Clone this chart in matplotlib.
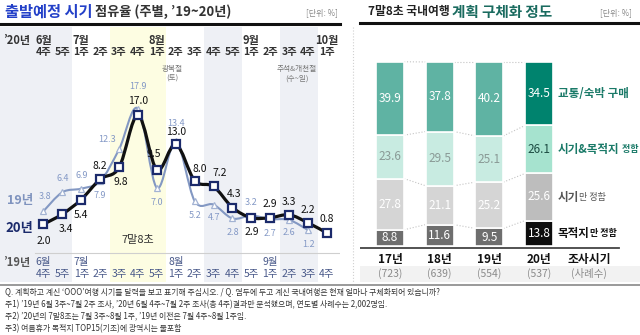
import matplotlib
matplotlib.use("Agg")
import matplotlib.pyplot as plt
from matplotlib.path import Path
from matplotlib.patches import PathPatch
from matplotlib.lines import Line2D
import numpy as np

plt.rcParams['font.family'] = ['Noto Sans CJK KR', 'DejaVu Sans']

#-----DATA-----#
weeks_20 = ['4주', '5주', '1주', '2주', '3주', '4주', '1주', '2주', '3주', '4주', '5주', '1주', '2주', '3주', '4주', '1주']
months_20 = {0: '6월', 2: '7월', 6: '8월', 11: '9월', 15: '10월'}
weeks_19 = ['4주', '5주', '1주', '2주', '3주', '4주', '5주', '1주', '2주', '3주', '4주', '5주', '1주', '2주', '3주', '4주']
months_19 = {0: '6월', 2: '7월', 7: '8월', 12: '9월'}
share_20 = [2.0, 3.4, 5.4, 8.2, 9.8, 17.0, 9.5, 13.0, 8.0, 7.2, 4.3, 2.9, 2.9, 3.3, 2.2, 0.8]
share_19 = [3.8, 6.4, 6.9, 7.9, 12.3, 17.9, 7.0, 13.4, 5.2, 4.7, 2.8, 3.2, 2.7, 2.6, 1.2]

years = ['17년', '18년', '19년', '20년']
cases = ['(723)', '(639)', '(554)', '(537)']
only_dest = [8.8, 11.6, 9.5, 13.8]
only_time = [27.8, 21.1, 25.2, 25.6]
time_dest = [23.6, 29.5, 25.1, 26.1]
booked = [39.9, 37.8, 40.2, 34.5]

notes = ["Q. 계획하고 계신 ‘OOO’여행 시기를 달력을 보고 표기해 주십시오. / Q. 염두에 두고 계신 국내여행은 현재 얼마나 구체화되어 있습니까?",
         "주1) ’19년 6월 3주~7월 2주 조사, ’20년 6월 4주~7월 2주 조사(총 4주)결과만 분석했으며, 연도별 사례수는 2,002명임.",
         "주2) ’20년의 7말8초는 7월 3주~8월 1주, ’19년 이전은 7월 4주~8월 1주임.",
         "주3) 여름휴가 목적지 TOP15(기초)에 광역시는 불포함"]

# label offsets in pixels (layout only)
off_20 = [(0, -17), (4, -15), (0, -15), (0, 13), (2, -15), (0, 14), (-3, 16), (0, 12),
          (5, 12), (6, 13), (2, 14), (0, -14), (0, 14), (0, 13), (0, 13), (0, 14)]
off_19 = [(2, 15), (0, 14), (0, 13), (0, -14), (-12, 10), (0, 22), (0, -15), (0, 18),
          (0, -15), (1, -13), (0, -14), (0, 13), (0, -14), (0, -13), (0, -14)]

W, H = 640, 335


def box(x0, y0, x1, y1):
    return [x0 / W, 1 - y1 / H, (x1 - x0) / W, (y1 - y0) / H]


def smooth_path(xs, ys):
    pts = np.column_stack([xs, ys]).astype(float)
    n = len(pts)
    verts = [pts[0]]
    codes = [Path.MOVETO]
    for i in range(n - 1):
        p0 = pts[i - 1] if i > 0 else pts[i]
        p1 = pts[i]
        p2 = pts[i + 1]
        p3 = pts[i + 2] if i + 2 < n else pts[i + 1]
        verts += [p1 + (p2 - p0) / 6, p2 - (p3 - p1) / 6, p2]
        codes += [Path.CURVE4] * 3
    return Path(verts, codes)


fig = plt.figure(figsize=(6.4, 3.35), dpi=100)
fig.patch.set_facecolor('white')

#-----LEFT PANEL-----#
axL = fig.add_axes(box(0, 27, 340, 282))
axL.set_xlim(-2.30, 15.69)
axL.set_ylim(-5.93, 29.1)
axL.axis('off')


def yl(p):  # pixel row -> left data y
    return (238.8 - p) / 7.28


grey_band = '#eef0f5'
axL.axvspan(-2.3, 1.5, color=grey_band, lw=0, zorder=0)
axL.axvspan(3.5, 6.5, color='#fdfde2', lw=0, zorder=0)
axL.axvspan(8.5, 10.5, color=grey_band, lw=0, zorder=0)
axL.axvspan(12.5, 14.5, color=grey_band, lw=0, zorder=0)

txt = '#333333'
axL.text(-1.4, yl(40), '’20년', ha='center', va='center', fontsize=8, weight='bold', color=txt)
axL.text(-1.4, yl(262), '’19년', ha='center', va='center', fontsize=8, weight='bold', color='#555555')
for i, w in enumerate(weeks_20):
    axL.text(i, yl(52), w, ha='center', va='center', fontsize=7.5, weight='bold', color=txt)
for i, m in months_20.items():
    axL.text(i, yl(40), m, ha='center', va='center', fontsize=8, weight='bold', color=txt)
for i, w in enumerate(weeks_19):
    axL.text(i, yl(274), w, ha='center', va='center', fontsize=7.5, color='#4a5a8a')
for i, m in months_19.items():
    axL.text(i, yl(262), m, ha='center', va='center', fontsize=7.5, color='#4a5a8a')

axL.plot([-0.45, 15.69], [yl(253), yl(253)], color='#cfcfcf', lw=0.8, zorder=1)

axL.text(6.8, yl(74), '광복절\n(토)', ha='center', va='center', fontsize=5.5, color='#777777', linespacing=1.3)
axL.text(13.4, yl(74), '추석&개천절\n(수~일)', ha='center', va='center', fontsize=5.5, color='#777777', linespacing=1.3)
axL.text(5.0, yl(240), '7말8초', ha='center', va='center', fontsize=8, color=txt)
axL.text(-1.25, yl(200), '19년', ha='center', va='center', fontsize=9, weight='bold', color='#7f93be')
axL.text(-1.25, yl(228), '20년', ha='center', va='center', fontsize=9.5, weight='bold', color='#1b2a6b')

x19 = np.arange(len(share_19))
x20 = np.arange(len(share_20))
axL.add_patch(PathPatch(smooth_path(x19, share_19), fc='none', ec='#8398c3', lw=1.5, zorder=3))
axL.plot(x19, share_19, ls='none', marker='^', ms=4, mfc='white', mec='#a3b3d3', mew=0.9, zorder=4)
axL.add_patch(PathPatch(smooth_path(x20, share_20), fc='none', ec='#111111', lw=2.3, zorder=5))
axL.plot(x20, share_20, ls='none', marker='s', ms=6, mfc='white', mec='#1b2a6b', mew=1.6, zorder=6)

for i, v in enumerate(share_19):
    axL.annotate(f'{v:.1f}', (i, v), xytext=off_19[i], textcoords='offset pixels',
                 ha='center', va='center', fontsize=6.5, color='#8499c6', zorder=7)
for i, v in enumerate(share_20):
    axL.annotate(f'{v:.1f}', (i, v), xytext=off_20[i], textcoords='offset pixels',
                 ha='center', va='center', fontsize=7.5, color='#111111', zorder=7)

#-----RIGHT PANEL-----#
axR = fig.add_axes(box(360, 27, 640, 282))
axR.set_xlim(-0.604, 5.03)
axR.set_ylim(-19.6, 119.0)
axR.axis('off')

xb = np.arange(len(years))
bw = 0.564
seg_vals = [only_dest, only_time, time_dest, booked]
old_cols = ['#6e6e6e', '#d5d5d5', '#c8ebe1', '#5fb3a3']
new_cols = ['#0d0d0d', '#bdbdbd', '#a6e3cf', '#00836e']
old_txt = ['white', 'white', '#8a9a96', 'white']
new_txt = ['white', 'white', '#1d4d44', 'white']

bottom = np.zeros(len(years))
tops = []
for k, vals in enumerate(seg_vals):
    vals = np.array(vals)
    cols = [old_cols[k]] * 3 + [new_cols[k]]
    axR.bar(xb, vals, bottom=bottom, width=bw, color=cols, edgecolor='white', lw=1.2, zorder=2)
    for i, v in enumerate(vals):
        tc = new_txt[k] if i == 3 else old_txt[k]
        axR.text(i, bottom[i] + v / 2, f'{v:.1f}', ha='center', va='center', fontsize=8.5, color=tc, zorder=3)
    bottom = bottom + vals
    tops.append(bottom.copy())

for lev in tops:
    for i in range(len(years) - 1):
        axR.plot([i + bw / 2, i + 1 - bw / 2], [lev[i], lev[i + 1]], ls=':', color='#c4c4c4', lw=0.8, zorder=1)

axR.plot([-0.6, 4.6], [-1.1, -1.1], color='#444444', lw=1.3, zorder=2)
axR.axhspan(-19.6, -10.9, color='#f2f2f2', lw=0, zorder=0)
for i, (yr, c) in enumerate(zip(years, cases)):
    axR.text(i, -7.1, yr, ha='center', va='center', fontsize=8.5, weight='bold', color='#111111')
    axR.text(i, -15.2, c, ha='center', va='center', fontsize=7.5, color='#8a8a8a')
axR.text(4, -7.1, '조사시기', ha='center', va='center', fontsize=8.5, weight='bold', color='#111111')
axR.text(4, -15.2, '(사례수)', ha='center', va='center', fontsize=7.5, color='#8a8a8a')

# segment names next to the 2020 bar
lx = 3.38
c3 = bottom - np.array(booked) / 2
c2 = tops[1] + np.array(time_dest) / 2
c1 = tops[0] + np.array(only_time) / 2
c0 = np.array(only_dest) / 2
axR.text(lx, c3[3], '교통/숙박 구매', ha='left', va='center', fontsize=8.3, weight='bold', color='#1a7a68')
t = axR.text(lx, c2[3], '시기&목적지', ha='left', va='center', fontsize=8.3, weight='bold', color='#1a7a68')
axR.annotate(' 정함', xy=(1, 0.5), xycoords=t, ha='left', va='center', fontsize=6.5, weight='bold', color='#1a7a68')
t = axR.text(lx, c1[3], '시기', ha='left', va='center', fontsize=8.3, weight='bold', color='#555555')
axR.annotate('만 정함', xy=(1, 0.5), xycoords=t, ha='left', va='center', fontsize=6.5, color='#555555')
t = axR.text(lx, c0[3], '목적지', ha='left', va='center', fontsize=8.3, weight='bold', color='#111111')
axR.annotate('만 정함', xy=(1, 0.5), xycoords=t, ha='left', va='center', fontsize=6.5, weight='bold', color='#111111')

#-----TITLES / FRAME-----#
t = fig.text(5 / W, 1 - 12 / H, '출발예정 시기', fontsize=11, weight='bold', color='#2340c8', va='center')
plt.annotate(' 점유율 (주별, ’19~20년)', xy=(1, 0.5), xycoords=t, ha='left', va='center',
             fontsize=9.5, weight='bold', color='#333333')
fig.text(338 / W, 1 - 13 / H, '[단위: %]', fontsize=5.8, color='#888888', ha='right', va='center')

t = fig.text(368 / W, 1 - 12 / H, '7말8초 국내여행 ', fontsize=8.5, weight='bold', color='#222222', va='center')
plt.annotate('계획 구체화 정도', xy=(1, 0.5), xycoords=t, ha='left', va='center',
             fontsize=10.5, weight='bold', color='#1a6b5f')
fig.text(632 / W, 1 - 13 / H, '[단위: %]', fontsize=5.8, color='#888888', ha='right', va='center')

fig.add_artist(Line2D([0, 340 / W], [1 - 24 / H] * 2, color='#111111', lw=2.2))
fig.add_artist(Line2D([360 / W, 1], [1 - 23 / H] * 2, color='#111111', lw=2.2))
fig.add_artist(Line2D([353 / W] * 2, [1 - 27 / H, 1 - 282 / H], color='#d0d0d0', lw=0.8, ls=':'))
fig.add_artist(Line2D([0, 1], [1 - 284.5 / H] * 2, color='#9a9a9a', lw=1.4))

for j, line in enumerate(notes):
    fig.text(5 / W, 1 - (292 + 12.3 * j) / H, line, fontsize=5.7, color='#333333', va='center')

fig.savefig('out.png', dpi=100)
